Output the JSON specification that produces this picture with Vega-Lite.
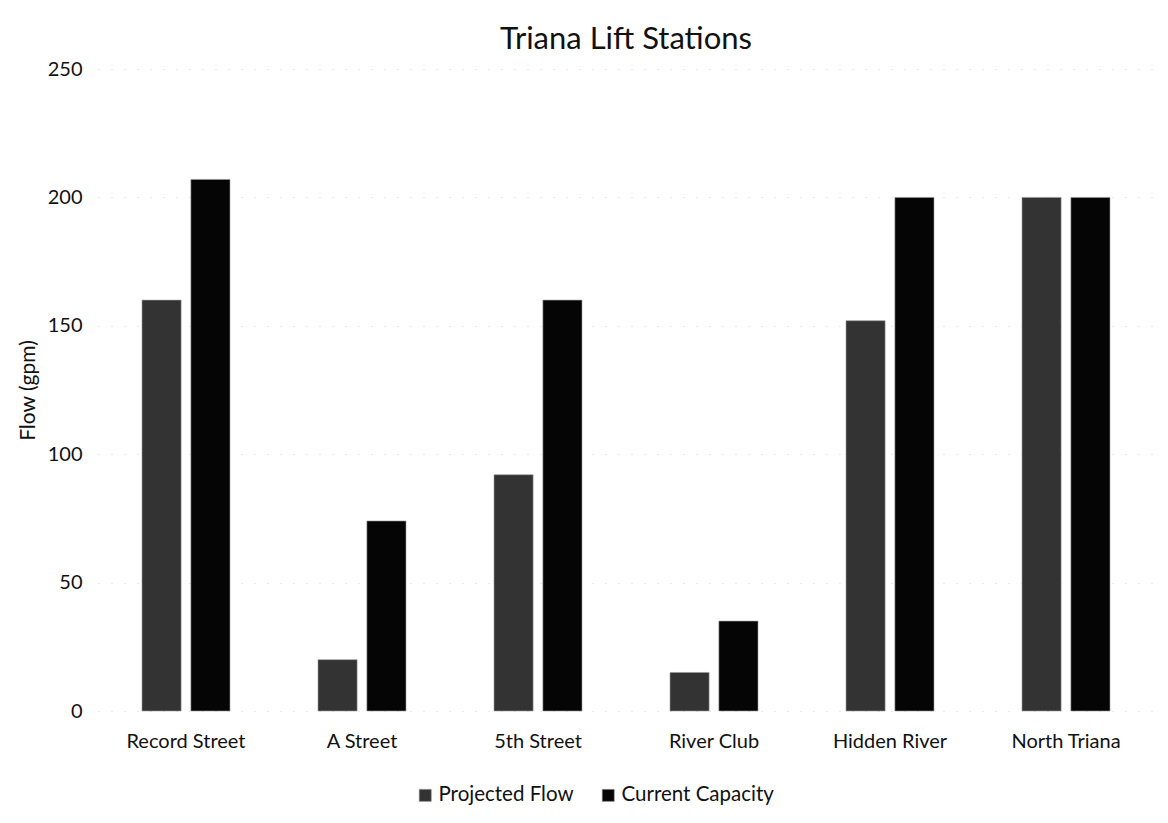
{
  "$schema": "https://vega.github.io/schema/vega-lite/v6.json",
  "autosize": {"type": "none"},
  "width": 1056,
  "height": 642,
  "padding": {"left": 98, "top": 69, "right": 14, "bottom": 112},
  "background": "white",
  "config": {
    "font": "Lato",
    "view": {"stroke": null}
  },
  "title": {
    "text": "Triana Lift Stations",
    "fontSize": 31,
    "fontWeight": "normal",
    "color": "#111111",
    "anchor": "middle",
    "offset": 3,
    "font": "Lato"
  },
  "data": {
    "values": [
      {"station": "Record Street", "series": "Projected Flow", "flow": 160},
      {"station": "Record Street", "series": "Current Capacity", "flow": 207},
      {"station": "A Street", "series": "Projected Flow", "flow": 20},
      {"station": "A Street", "series": "Current Capacity", "flow": 74},
      {"station": "5th Street", "series": "Projected Flow", "flow": 92},
      {"station": "5th Street", "series": "Current Capacity", "flow": 160},
      {"station": "River Club", "series": "Projected Flow", "flow": 15},
      {"station": "River Club", "series": "Current Capacity", "flow": 35},
      {"station": "Hidden River", "series": "Projected Flow", "flow": 152},
      {"station": "Hidden River", "series": "Current Capacity", "flow": 200},
      {"station": "North Triana", "series": "Projected Flow", "flow": 200},
      {"station": "North Triana", "series": "Current Capacity", "flow": 200}
    ]
  },
  "mark": {"type": "bar", "stroke": "#9a9a9a", "strokeWidth": 0.6},
  "encoding": {
    "x": {
      "field": "station",
      "type": "nominal",
      "sort": ["Record Street", "A Street", "5th Street", "River Club", "Hidden River", "North Triana"],
      "scale": {"paddingInner": 0.5, "paddingOuter": 0.25},
      "axis": {
        "title": null,
        "labelAngle": 0,
        "labelFontSize": 20,
        "labelColor": "#111111",
        "labelPadding": 20,
        "ticks": false,
        "domain": false,
        "grid": false
      }
    },
    "xOffset": {
      "field": "series",
      "type": "nominal",
      "sort": ["Projected Flow", "Current Capacity"],
      "scale": {"paddingInner": 0.2}
    },
    "y": {
      "field": "flow",
      "type": "quantitative",
      "scale": {"domain": [0, 250], "nice": false},
      "axis": {
        "title": "Flow (gpm)",
        "titleFontSize": 21,
        "titleFontWeight": "normal",
        "titleColor": "#111111",
        "titleX": -70,
        "titleY": 321,
        "titleAngle": -90,
        "titleAlign": "center",
        "titleBaseline": "middle",
        "values": [0, 50, 100, 150, 200, 250],
        "labelFontSize": 20,
        "labelColor": "#111111",
        "labelPadding": 16,
        "ticks": false,
        "domain": false,
        "grid": true,
        "gridColor": "#d4d4d4",
        "gridDash": [1, 12],
        "gridWidth": 1
      }
    },
    "color": {
      "field": "series",
      "type": "nominal",
      "sort": ["Projected Flow", "Current Capacity"],
      "scale": {"domain": ["Projected Flow", "Current Capacity"], "range": ["#333333", "#050505"]},
      "legend": {
        "title": null,
        "orient": "none",
        "legendX": 317,
        "legendY": 716,
        "direction": "horizontal",
        "symbolType": "square",
        "symbolSize": 144,
        "symbolStrokeColor": "#888888",
        "symbolStrokeWidth": 0.6,
        "labelFontSize": 20.5,
        "labelColor": "#111111",
        "labelOffset": 3,
        "columnPadding": 24
      }
    }
  }
}
